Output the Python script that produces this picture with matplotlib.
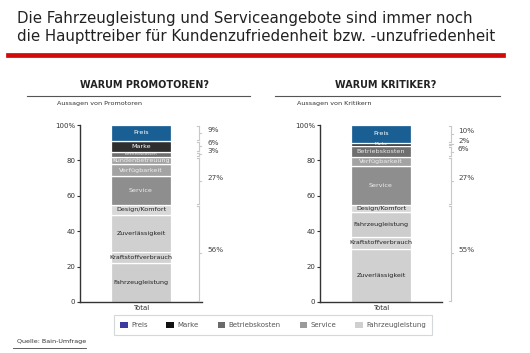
import matplotlib
matplotlib.use('Agg')
import matplotlib.pyplot as plt
from matplotlib.patches import Rectangle
from matplotlib.lines import Line2D

# ---------------- data ----------------
title_text = ["Die Fahrzeugleistung und Serviceangebote sind immer noch",
              "die Haupttreiber für Kundenzufriedenheit bzw. -unzufriedenheit"]

prom_labels = ['Fahrzeugleistung', 'Kraftstoffverbrauch', 'Zuverlässigkeit', 'Design/Komfort',
               'Service', 'Verfügbarkeit', 'Kundenbetreuung', 'Betriebskosten', 'Marke', 'Preis']
prom_values = [22, 6, 21, 6, 16, 7, 4, 3, 6, 9]
prom_groups = [0, 0, 0, 0, 1, 1, 1, 2, 3, 4]
prom_group_pct = ['56%', '27%', '3%', '6%', '9%']

krit_labels = ['Zuverlässigkeit', 'Kraftstoffverbrauch', 'Fahrzeugleistung', 'Design/Komfort',
               'Service', 'Verfügbarkeit', 'Betriebskosten', 'Marke', 'Preis']
krit_values = [30, 7, 14, 4, 22, 5, 6, 2, 10]
krit_groups = [0, 0, 0, 0, 1, 1, 2, 3, 4]
krit_group_pct = ['55%', '27%', '6%', '2%', '10%']

legend_labels = ['Preis', 'Marke', 'Betriebskosten', 'Service', 'Fahrzeugleistung']
y_ticks = [0, 20, 40, 60, 80, 100]
y_ticklabels = ['0', '20', '40', '60', '80', '100%']

# ---------------- styles ----------------
seg_colors = {
    'Preis': '#1a5f93', 'Marke': '#2e2e2e', 'Betriebskosten': '#6f6f6f',
    'Kundenbetreuung': '#a3a3a3', 'Verfügbarkeit': '#a3a3a3', 'Service': '#8e8e8e',
    'Design/Komfort': '#d8d8d8', 'Zuverlässigkeit': '#d0d0d0',
    'Kraftstoffverbrauch': '#d2d2d2', 'Fahrzeugleistung': '#cdcdcd',
}
seg_text = {
    'Preis': 'white', 'Marke': 'white', 'Betriebskosten': '#e8e8e8',
    'Kundenbetreuung': '#eeeeee', 'Verfügbarkeit': '#eeeeee', 'Service': '#eeeeee',
    'Design/Komfort': '#222222', 'Zuverlässigkeit': '#222222',
    'Kraftstoffverbrauch': '#222222', 'Fahrzeugleistung': '#222222',
}
legend_colors = ['#3b3ba0', '#111111', '#6a6a6a', '#9a9a9a', '#cfcfcf']

W, H = 530, 353
fig = plt.figure(figsize=(W / 100, H / 100), dpi=100)
fig.patch.set_facecolor('white')

def fx(px):
    return px / W

def fy(py):
    return 1 - py / H

# title
fig.text(fx(17), fy(18), title_text[0], fontsize=10.8, color='#222222', va='center', ha='left')
fig.text(fx(17), fy(36), title_text[1], fontsize=10.8, color='#222222', va='center', ha='left')
fig.add_artist(Line2D([fx(8), fx(503)], [fy(55), fy(55)], color='#d10a0a', lw=3.4,
                      transform=fig.transFigure))

def panel(ax_left_px, heading, heading_cx, line_x0, line_x1, sub, labels, values, groups,
          group_pct, bracket_px, pct_px):
    fig.text(fx(heading_cx), fy(85), heading, fontsize=6.9, fontweight='bold',
             color='#222222', ha='center', va='center')
    fig.add_artist(Line2D([fx(line_x0), fx(line_x1)], [fy(96), fy(96)], color='#555555',
                          lw=0.8, transform=fig.transFigure))
    fig.text(fx(ax_left_px - 23), fy(104), sub, fontsize=4.6, color='#333333',
             ha='left', va='center')

    ax = fig.add_axes([fx(ax_left_px), fy(302), fx(122), 177 / H])
    bottom = 0
    for lab, val in zip(labels, values):
        ax.bar(0, val, bottom=bottom, width=0.98, color=seg_colors[lab],
               edgecolor='white', linewidth=0.9)
        fs = 4.6 if val >= 4 else 3.2
        ax.text(0, bottom + val / 2, lab, ha='center', va='center', fontsize=fs,
                color=seg_text[lab])
        bottom += val
    ax.set_xlim(-1, 1)
    ax.set_ylim(0, 100)
    ax.set_yticks(y_ticks)
    ax.set_yticklabels(y_ticklabels)
    ax.set_xticks([0])
    ax.set_xticklabels(['Total'])
    ax.tick_params(axis='y', labelsize=5, colors='#333333', length=2.5, width=0.8, pad=1)
    ax.tick_params(axis='x', labelsize=5, colors='#333333', length=0, pad=2)
    for s in ['top', 'right']:
        ax.spines[s].set_visible(False)
    for s in ['left', 'bottom']:
        ax.spines[s].set_color('#333333')
        ax.spines[s].set_linewidth(1.0)

    # brackets
    bx = fx(bracket_px)
    px = fx(pct_px)
    n_groups = max(groups) + 1
    trans = ax.transData
    for g in range(n_groups):
        lo = sum(v for v, gg in zip(values, groups) if gg < g)
        hi = lo + sum(v for v, gg in zip(values, groups) if gg == g)
        y_lo = fig.transFigure.inverted().transform(trans.transform((0, lo)))[1]
        y_hi = fig.transFigure.inverted().transform(trans.transform((0, hi)))[1]
        gap = 1.0 / H
        fig.add_artist(Line2D([bx, bx], [y_lo + gap, y_hi - gap], color='#c8c8c8', lw=0.8,
                              transform=fig.transFigure))
        for yy in (y_lo + gap, y_hi - gap):
            fig.add_artist(Line2D([bx - 2 / W, bx], [yy, yy], color='#c8c8c8', lw=0.8,
                                  transform=fig.transFigure))
        ym = (y_lo + y_hi) / 2
        fig.add_artist(Line2D([bx, bx + 2 / W], [ym, ym], color='#c8c8c8', lw=0.8,
                              transform=fig.transFigure))
        fig.text(px, ym + 3 / H, group_pct[g], fontsize=5.2, color='#444444',
                 ha='left', va='center')
    return ax

panel(80, 'WARUM PROMOTOREN?', 145, 27, 250, 'Aussagen von Promotoren',
      prom_labels, prom_values, prom_groups, prom_group_pct, 199, 207)
panel(320, 'WARUM KRITIKER?', 386, 275, 500, 'Aussagen von Kritikern',
      krit_labels, krit_values, krit_groups, krit_group_pct, 451, 458)

handles = [Rectangle((0, 0), 1, 1, facecolor=c, edgecolor='none') for c in legend_colors]
leg = fig.legend(handles, legend_labels, loc='center', bbox_to_anchor=(fx(273), fy(325)),
                 ncol=5, fontsize=5, frameon=True, fancybox=False, handlelength=1.1,
                 handleheight=1.1, columnspacing=2.7, handletextpad=0.5,
                 borderpad=0.9, labelcolor='#555555')
leg.get_frame().set_edgecolor('#c8d0d0')
leg.get_frame().set_linewidth(0.8)

fig.text(fx(17), fy(342), 'Quelle: Bain-Umfrage', fontsize=4.6, color='#333333',
         ha='left', va='center')
fig.add_artist(Line2D([fx(13), fx(86)], [fy(347.5), fy(347.5)], color='#444444', lw=0.6,
                      transform=fig.transFigure))

fig.savefig('out.png', dpi=100, facecolor='white')
